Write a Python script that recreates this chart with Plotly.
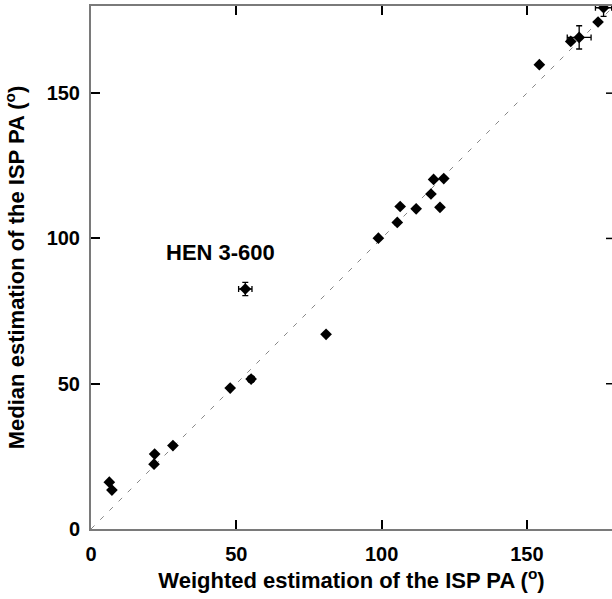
import plotly.graph_objects as go

# Data
weighted = [6.3, 7.2, 21.7, 21.9, 28.2, 47.9, 55.1, 53.1, 80.9, 98.9, 105.4, 106.4,
            111.9, 117.0, 117.9, 121.4, 120.1, 154.3, 165.1, 168.0, 174.5, 176.4]
median = [16.1, 13.4, 22.3, 25.8, 28.7, 48.5, 51.6, 82.6, 67.0, 100.1, 105.5, 111.0,
          110.2, 115.3, 120.3, 120.6, 110.7, 159.8, 167.8, 169.2, 174.5, 179.4]
err_x = [0, 0, 0, 0, 0, 0, 1.0, 2.3, 0, 0, 0, 0, 0, 0, 0, 0, 0, 0, 0, 4.1, 0, 2.8]
err_y = [0, 0, 0, 0, 0, 0, 1.0, 2.3, 0, 0, 0, 0, 0, 0, 0, 0, 0, 0, 0, 4.0, 0, 3.0]

diag = [0, 180]
tick_vals = [0, 50, 100, 150]
label_text = "HEN 3-600"
label_pos = (44.4, 95)

FONT = "Liberation Sans, Arial, Helvetica, sans-serif"

fig = go.Figure()
fig.add_trace(go.Scatter(x=diag, y=diag, mode="lines",
                         line=dict(color="#888888", width=1, dash="5px,8px"),
                         hoverinfo="skip", showlegend=False))
fig.add_trace(go.Scatter(
    x=weighted, y=median, mode="markers",
    marker=dict(symbol="diamond", size=9, color="black"),
    error_x=dict(type="data", array=err_x, color="black", thickness=1.3, width=3),
    error_y=dict(type="data", array=err_y, color="black", thickness=1.3, width=3),
    showlegend=False))

fig.add_annotation(x=label_pos[0], y=label_pos[1], text=label_text, showarrow=False,
                   font=dict(family=FONT, size=22, color="black", weight="bold"))

# right-hand ticks (right axis itself lies just past the window edge)
for v in tick_vals[1:]:
    fig.add_shape(type="line", xref="paper", yref="y", xsizemode="pixel", xanchor=1,
                  x0=-6, x1=3, y0=v, y1=v, line=dict(color="black", width=1.5))

axis_common = dict(
    showgrid=False, zeroline=False, showline=True, linecolor="#7a7a7a", linewidth=2,
    ticks="inside", ticklen=9, tickwidth=1.5, tickcolor="black",
    tickvals=tick_vals, tickfont=dict(family=FONT, size=20, color="black", weight="bold"),
)
fig.update_xaxes(range=[0, 179.3], mirror="ticks", ticklabelstandoff=6,
                 title=dict(text="Weighted estimation of the ISP PA (<sup>o</sup>)",
                            font=dict(family=FONT, size=22, color="black", weight="bold"),
                            standoff=4),
                 **axis_common)
fig.update_yaxes(range=[0, 180], mirror=False, ticklabelstandoff=5,
                 title=dict(text="Median estimation of the ISP PA (<sup>o</sup>)",
                            font=dict(family=FONT, size=22, color="black", weight="bold"),
                            standoff=16),
                 **axis_common)

fig.update_layout(width=612, height=599, margin=dict(l=91, r=0, t=6, b=70),
                  plot_bgcolor="white", paper_bgcolor="white")

fig.write_html("out.html", config={"displayModeBar": False},
               post_script="document.body.style.margin='0';document.body.style.overflow='hidden';")
